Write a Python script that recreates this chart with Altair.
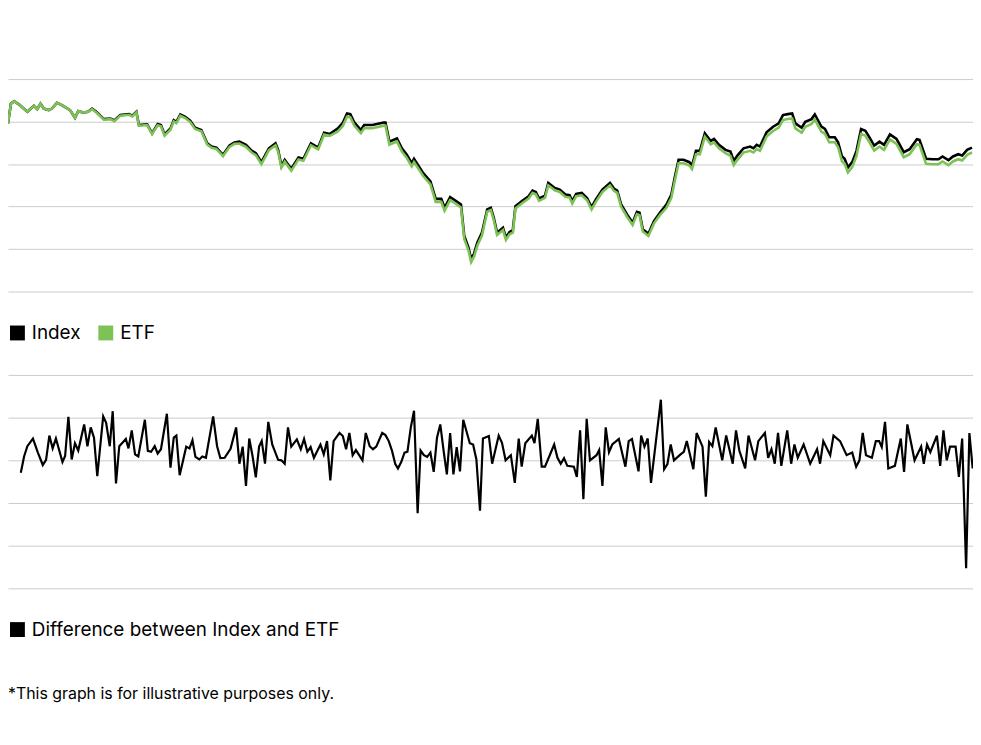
import altair as alt
import pandas as pd

# ---------------- data ----------------
idx_day = [0.0, 0.9, 1.9, 3.4, 5.9, 7.9, 8.9, 9.9, 10.9, 12.4,
           13.4, 14.9, 16.4, 18.9, 20.4, 21.4, 22.9, 24.4, 25.6, 26.9,
           29.2, 31.2, 32.4, 34.2, 36.9, 37.9, 39.1, 39.9, 42.4, 43.9,
           45.6, 46.6, 47.7, 49.5, 50.5, 51.3, 52.5, 54.0, 55.5, 57.0,
           58.9, 60.7, 62.0, 63.5, 65.5, 67.5, 69.0, 70.5, 72.5, 74.3,
           75.5, 77.2, 79.5, 81.5, 82.3, 83.3, 84.3, 86.3, 88.5, 90.0,
           92.3, 94.5, 96.3, 98.0, 100.5, 102.0, 103.3, 104.3, 105.5, 107.5,
           108.5, 111.0, 114.5, 115.0, 116.2, 118.5, 120.0, 121.5, 123.0, 123.7,
           126.5, 128.7, 130.3, 132.0, 133.0, 134.7, 136.3, 138.0, 139.0, 140.3,
           141.1, 142.0, 143.0, 144.4, 146.0, 147.1, 148.0, 149.0, 150.8, 151.7,
           152.8, 153.8, 154.6, 156.5, 158.6, 159.8, 160.8, 161.8, 163.6, 164.6,
           166.6, 168.1, 169.8, 171.1, 171.9, 173.1, 174.8, 176.4, 177.8, 179.1,
           181.1, 183.4, 184.6, 185.6, 186.8, 188.6, 190.3, 191.6, 192.4, 193.4,
           195.1, 196.8, 198.6, 200.6, 202.1, 203.1, 204.3, 205.8, 207.6, 208.4,
           209.6, 210.8, 212.3, 214.1, 215.1, 216.6, 218.6, 220.1, 221.1, 222.4,
           224.1, 226.1, 227.1, 228.1, 229.1, 231.1, 233.1, 234.8, 236.1, 237.6,
           238.9, 239.9, 241.8, 242.9, 244.8, 245.8, 247.8, 248.9, 250.2, 251.9,
           252.9, 254.1, 254.9, 255.9, 257.2, 258.5, 259.9, 261.2, 262.5, 263.9,
           265.5, 266.9, 268.7, 270.7, 272.9, 274.7, 276.9, 277.7, 279.7, 281.7,
           283.5, 284.7, 286.5, 287.9, 289.5, 290.7, 292.2, 293.7]

index_val = [99.56, 104.23, 104.79, 104.00, 102.29, 103.69, 102.92, 104.23, 103.06, 102.69,
             103.06, 104.39, 103.86, 102.69, 100.89, 102.45, 102.13, 102.29, 103.06, 102.29,
             100.58, 100.72, 100.26, 101.52, 101.75, 101.36, 102.29, 99.18, 99.32, 97.22,
             99.42, 99.18, 96.99, 98.39, 100.35, 99.95, 101.66, 101.12, 100.19, 98.55,
             98.01, 94.88, 94.11, 93.87, 92.17, 94.35, 95.05, 95.28, 94.51, 93.11,
             92.55, 90.44, 93.71, 94.88, 93.34, 89.60, 91.00, 88.90, 91.54, 91.24,
             94.88, 93.88, 97.38, 97.08, 98.39, 99.72, 101.89, 101.75, 99.79, 98.01,
             99.18, 99.18, 99.79, 99.79, 95.28, 96.05, 93.71, 92.17, 90.21, 91.24,
             87.87, 85.93, 81.80, 81.80, 79.70, 82.20, 81.42, 80.49, 73.08, 70.35,
             67.64, 68.95, 71.52, 73.86, 79.32, 79.70, 77.36, 73.86, 75.02, 72.69,
             74.02, 74.42, 80.09, 81.26, 82.43, 83.76, 83.43, 81.89, 82.59, 85.54,
             84.37, 83.99, 82.83, 82.66, 81.26, 82.97, 83.20, 82.03, 79.86, 81.66,
             83.99, 85.54, 84.23, 83.76, 80.49, 78.15, 76.19, 78.76, 78.53, 74.65,
             73.62, 76.59, 78.53, 80.49, 82.83, 86.71, 91.00, 91.00, 90.44, 89.60,
             93.11, 93.11, 97.22, 95.44, 95.91, 94.51, 93.34, 92.94, 90.77, 92.17,
             93.71, 94.11, 93.71, 94.51, 94.11, 97.45, 98.79, 99.56, 101.52, 101.75,
             101.89, 99.56, 98.55, 99.95, 100.58, 101.66, 98.79, 98.25, 96.29, 96.29,
             95.12, 91.78, 91.24, 89.21, 90.44, 93.11, 98.25, 97.85, 96.21, 94.35,
             95.28, 94.51, 96.99, 95.91, 92.78, 93.48, 95.82, 95.68, 91.24, 91.14,
             91.14, 91.78, 90.91, 91.78, 92.31, 92.01, 93.34, 93.88]

etf_val = [99.56, 104.23, 104.79, 104.00, 102.29, 103.69, 102.92, 104.23, 103.06, 102.69,
           103.06, 104.39, 103.86, 102.69, 100.89, 102.45, 102.13, 102.29, 102.91, 102.14,
           100.43, 100.57, 100.11, 101.37, 101.60, 101.21, 102.14, 99.03, 99.17, 97.07,
           99.12, 98.88, 96.69, 98.09, 100.05, 99.65, 101.36, 100.82, 99.89, 98.25,
           97.71, 94.58, 93.81, 93.57, 91.87, 94.05, 94.75, 94.83, 94.06, 92.66,
           92.10, 89.99, 93.26, 94.43, 92.89, 89.15, 90.55, 88.45, 91.09, 90.79,
           94.43, 93.43, 96.93, 96.63, 97.64, 98.97, 101.14, 101.00, 99.04, 97.26,
           98.43, 98.43, 99.04, 99.04, 94.53, 95.30, 92.96, 91.42, 89.46, 90.49,
           87.17, 85.23, 81.10, 81.10, 79.00, 81.50, 80.72, 79.79, 72.38, 69.65,
           66.94, 68.25, 70.82, 73.16, 78.77, 79.15, 76.81, 73.31, 74.47, 72.14,
           73.47, 73.87, 79.54, 80.71, 81.88, 83.21, 82.88, 81.34, 82.04, 84.99,
           83.82, 83.44, 82.28, 82.11, 80.71, 82.42, 82.65, 81.48, 79.31, 81.11,
           83.44, 84.99, 83.68, 83.21, 79.94, 77.60, 75.64, 78.21, 77.98, 74.10,
           73.07, 76.04, 77.98, 79.69, 82.03, 85.91, 90.20, 90.20, 89.64, 88.80,
           92.31, 92.31, 96.42, 94.64, 95.11, 93.71, 92.54, 91.94, 89.77, 91.17,
           92.71, 93.11, 92.71, 93.51, 93.11, 96.45, 97.79, 98.56, 100.35, 100.58,
           100.72, 98.39, 97.38, 98.78, 99.41, 100.49, 97.62, 97.08, 95.12, 95.12,
           93.95, 90.61, 90.07, 88.04, 89.27, 91.94, 97.08, 96.68, 95.04, 93.18,
           94.11, 93.34, 95.82, 94.74, 91.61, 92.31, 94.65, 94.51, 90.07, 89.97,
           89.97, 90.61, 89.74, 90.61, 91.14, 90.84, 92.17, 92.71]

diff_day = [3.9, 4.9, 5.9, 7.6, 9.1, 10.6, 11.6, 12.6, 13.6, 14.6,
            16.6, 17.4, 18.4, 19.4, 20.4, 21.4, 23.2, 24.2, 25.2, 26.2,
            27.2, 29.0, 29.9, 31.0, 31.9, 32.9, 33.9, 35.9, 36.7, 37.7,
            38.7, 39.7, 41.7, 42.6, 43.6, 44.7, 45.6, 46.6, 48.4, 49.5,
            50.5, 51.3, 52.3, 54.3, 55.3, 56.2, 57.1, 58.3, 59.2, 60.3,
            62.5, 63.7, 64.7, 66.0, 67.8, 69.5, 70.5, 71.5, 72.5, 73.5,
            74.5, 75.5, 76.5, 77.3, 78.3, 79.3, 80.5, 82.3, 83.3, 84.3,
            85.3, 86.3, 88.0, 89.2, 90.2, 91.2, 92.2, 93.2, 95.2, 96.2,
            97.2, 98.2, 99.2, 101.0, 102.0, 103.0, 104.0, 105.0, 106.0, 108.0,
            109.0, 110.2, 111.2, 112.2, 114.0, 115.0, 116.0, 117.0, 118.0, 118.8,
            119.8, 120.8, 121.7, 122.7, 123.7, 124.8, 125.7, 126.7, 127.7, 128.7,
            129.7, 130.7, 131.7, 132.7, 133.7, 134.7, 135.7, 136.7, 137.7, 138.7,
            140.7, 141.7, 142.7, 143.8, 144.7, 146.5, 147.5, 149.5, 150.5, 151.6,
            153.2, 154.4, 155.6, 156.5, 157.6, 159.6, 160.4, 161.4, 162.6, 163.6,
            166.4, 167.4, 168.4, 169.4, 170.4, 172.4, 173.3, 174.3, 175.3, 176.3,
            177.3, 179.3, 180.1, 181.1, 182.1, 183.1, 184.1, 186.1, 188.1, 189.1,
            190.1, 192.1, 192.9, 193.9, 194.9, 195.9, 198.9, 199.9, 200.9, 201.9,
            202.9, 204.9, 205.9, 206.8, 208.8, 209.8, 211.6, 212.6, 213.6, 214.6,
            215.6, 217.6, 218.8, 220.8, 221.8, 222.8, 224.6, 225.6, 227.6, 228.6,
            230.6, 231.6, 232.6, 233.6, 234.6, 235.6, 237.4, 238.6, 239.6, 240.6,
            242.4, 244.4, 246.5, 247.4, 248.4, 250.5, 251.5, 253.5, 255.5, 257.2,
            258.4, 259.4, 260.4, 261.4, 263.2, 264.4, 265.4, 266.2, 267.2, 268.2,
            270.2, 272.0, 273.0, 274.0, 276.2, 278.2, 279.0, 280.0, 281.0, 283.0,
            284.0, 285.0, 286.0, 287.0, 288.7, 289.7, 290.7, 291.9, 292.9, 293.9]

diff_val = [-0.29, 0.09, 0.33, 0.51, 0.18, -0.11, 0.01, 0.58, 0.28, 0.51,
            -0.04, 0.10, 1.02, 0.02, 0.40, 0.23, 0.84, 0.33, 0.77, 0.53,
            -0.37, 1.03, 0.88, 0.33, 1.15, -0.54, 0.33, 0.50, 0.28, 0.70,
            0.14, 0.09, 0.95, 0.22, 0.20, 0.33, 0.16, 0.26, 1.09, -0.17,
            0.53, 0.58, -0.35, 0.32, 0.28, 0.47, 0.08, 0.02, 0.09, 0.06,
            1.03, 0.33, 0.05, 0.06, 0.27, 0.77, -0.08, 0.32, -0.60, 0.51,
            0.10, -0.40, 0.32, 0.45, -0.08, 0.90, 0.37, 0.01, 0.00, -0.08,
            0.77, 0.32, 0.49, 0.26, 0.50, 0.20, 0.31, 0.06, 0.37, 0.14,
            0.45, -0.47, 0.45, 0.64, 0.57, 0.26, 0.64, 0.12, 0.24, 0.00,
            0.64, 0.33, 0.26, 0.32, 0.64, 0.59, 0.45, 0.22, -0.09, -0.19,
            -0.04, 0.18, 0.20, 0.76, 1.16, -1.24, 0.23, 0.12, 0.08, 0.18,
            -0.27, 0.53, 0.84, 0.23, -0.33, 0.64, -0.33, 0.31, -0.26, 0.95,
            0.40, 0.37, 0.02, -1.18, 0.51, 0.57, -0.08, 0.58, 0.41, 0.00,
            0.12, -0.53, 0.51, -0.15, 0.40, 0.58, 0.40, 0.97, -0.15, -0.15,
            0.37, 0.06, -0.08, 0.05, -0.13, -0.15, -0.39, 0.70, -0.91, 0.97,
            0.00, 0.12, 0.24, -0.60, 0.77, 0.19, 0.37, 0.50, -0.15, 0.45,
            0.50, -0.26, 0.58, 0.32, 0.51, -0.53, 1.42, -0.21, -0.09, 0.37,
            0.00, 0.14, 0.20, 0.45, -0.21, 0.64, 0.32, -0.85, 0.43, 0.33,
            0.77, 0.00, 0.58, -0.08, 0.70, 0.23, -0.19, 0.58, 0.00, 0.45,
            0.64, 0.06, 0.26, -0.08, 0.64, -0.13, 0.70, -0.08, 0.37, 0.06,
            0.37, -0.08, 0.26, -0.08, 0.45, 0.12, 0.58, 0.45, 0.12, 0.18,
            -0.15, 0.00, 0.64, 0.12, 0.06, 0.45, 0.45, 0.31, 0.90, -0.19,
            -0.13, 0.51, -0.27, 0.84, 0.00, 0.32, -0.08, 0.37, 0.19, 0.58,
            -0.13, 0.70, 0.00, 0.32, 0.32, -0.39, 0.51, -2.53, 0.64, -0.19]

series_names = ["Index", "ETF"]
series_colors = ["#000000", "#7cc254"]
diff_name = "Difference between Index and ETF"
top_ticks = [60, 70, 80, 90, 100, 110]
diff_ticks = [-3, -2, -1, 0, 1, 2]
footnote = "*This graph is for illustrative purposes only."

# ---------------- frames ----------------
idx_df = pd.DataFrame({"day": idx_day, "value": index_val, "series": "Index"})
etf_df = pd.DataFrame({"day": idx_day, "value": etf_val, "series": "ETF"})
diff_df = pd.DataFrame({"day": diff_day, "value": diff_val, "series": diff_name})
top_leg_df = pd.DataFrame({"series": series_names})
diff_leg_df = pd.DataFrame({"series": [diff_name]})

FONT = "Inter"
W, H = 972, 582

x_enc = alt.X("day:Q", scale=alt.Scale(domain=[0, 294], nice=False, zero=False), axis=None)


def grid_axis(vals, orient):
    return alt.Axis(values=vals, grid=True, gridColor="#cccccc", gridWidth=1,
                    domain=False, ticks=False, labels=False, title=None, orient=orient)


top_scale = alt.Scale(domain=[60, 110], range=[283, 69], nice=False, zero=False)
diff_scale = alt.Scale(domain=[-3, 2], range=[582, 367], nice=False, zero=False)
top_y = alt.Y("value:Q", scale=top_scale, axis=grid_axis(top_ticks, "left"))

idx_line = alt.Chart(idx_df).mark_line(color=series_colors[0], strokeWidth=2.6).encode(
    x=x_enc, y=top_y)
etf_line = alt.Chart(etf_df).mark_line(color=series_colors[1], strokeWidth=2.6).encode(
    x=x_enc, y=top_y)


def legend(y):
    return alt.Legend(orient="none", legendX=0, legendY=y, direction="horizontal",
                      title=None, symbolType="square", symbolSize=225, symbolOpacity=1,
                      symbolStrokeWidth=0, labelFontSize=19, labelFont=FONT,
                      labelColor="#000000", labelOffset=5, columnPadding=16,
                      labelLimit=600, padding=0, offset=0)


top_leg = alt.Chart(top_leg_df).mark_point(shape="square", filled=True, opacity=0).encode(
    color=alt.Color("series:N", scale=alt.Scale(domain=series_names, range=series_colors),
                    legend=legend(315)))

diff_line = alt.Chart(diff_df).mark_line(color="#000000", strokeWidth=2.2).encode(
    x=x_enc, y=alt.Y("value:Q", scale=diff_scale, axis=grid_axis(diff_ticks, "right")))
diff_leg = alt.Chart(diff_leg_df).mark_point(shape="square", filled=True, opacity=0).encode(
    color=alt.Color("series:N", scale=alt.Scale(domain=[diff_name], range=["#000000"]),
                    legend=legend(614)))

top = alt.layer(idx_line, etf_line, top_leg)
bottom = alt.layer(diff_line, diff_leg)

chart = (
    alt.layer(top, bottom)
    .resolve_scale(y="independent", color="independent")
    .properties(
        width=W, height=H,
        title=alt.TitleParams(footnote, orient="bottom", anchor="start", frame="group",
                              offset=46, fontSize=16, font=FONT,
                              fontWeight="normal", color="#000000"),
        padding={"left": 0, "top": 0, "right": 0, "bottom": 130},
        autosize=alt.AutoSizeParams(type="none"),
        background="white",
    )
    .configure_view(stroke=None)
)

chart.save("out.html", embed_options={"renderer": "svg", "actions": False})
